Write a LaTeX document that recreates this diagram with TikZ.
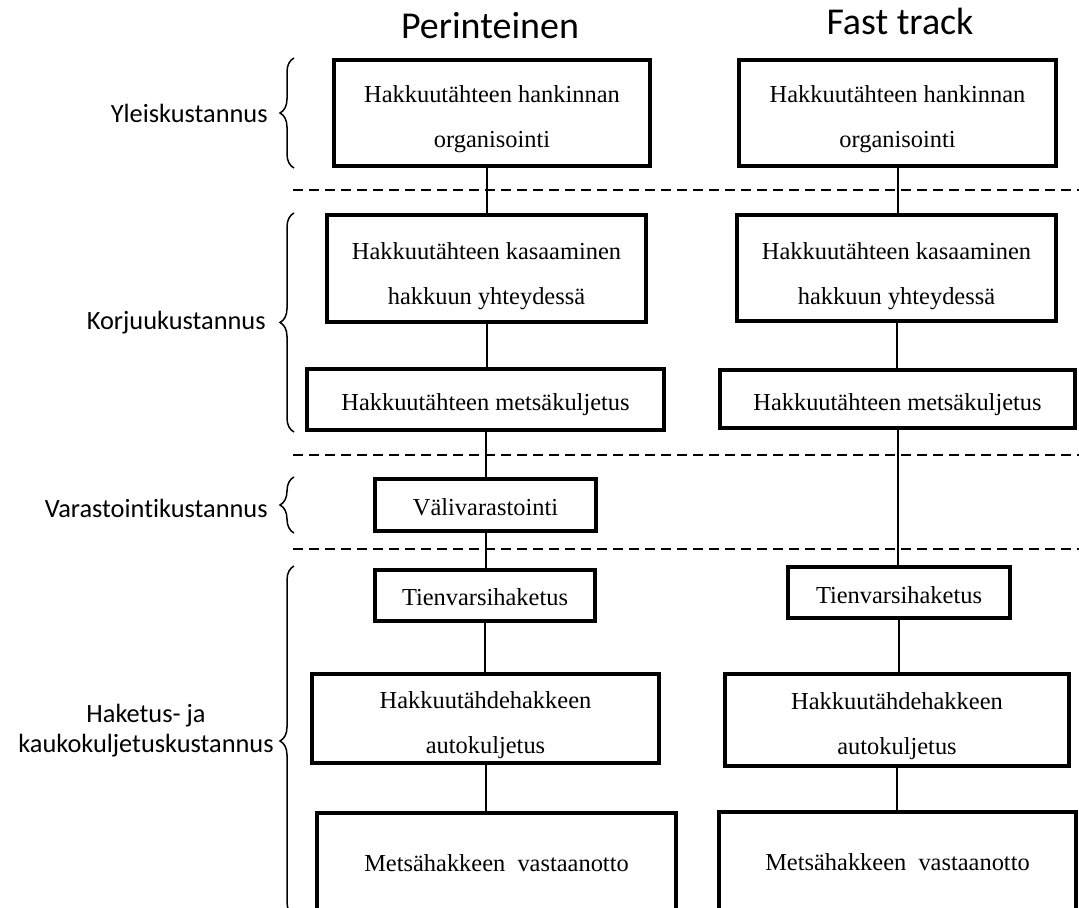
\documentclass[tikz,border=0pt]{standalone}
\usepackage{fontspec}
\setmainfont{Liberation Serif}
\newfontfamily\labelfont{Carlito}[Ligatures=NoCommon]
\usepackage{tikz}
\usetikzlibrary{positioning}
\usetikzlibrary{decorations.pathreplacing}
\newlength{\pxu}
\setlength{\pxu}{0.02cm}
\tikzset{
    costbox/.style={
           rectangle,
           draw=black, line width=4\pxu,
           inner sep=0pt,
           },
    boxtext/.style={
           align=center,
           inner sep=0pt,
           font=\fontsize{13.9}{25.5}\selectfont,
           },
    phase/.style={
           font=\labelfont\fontsize{15}{17}\selectfont,
           align=center,
           inner sep=0pt,
           anchor=east,
           },
    column/.style={
           font=\labelfont\fontsize{21.6}{25}\selectfont,
           anchor=base,
           },
    bracket/.style={
           decorate,
           decoration={brace, amplitude=14\pxu},
           line width=1.5\pxu,
           },
    divider/.style={dash pattern=on 10\pxu off 6\pxu, line width=2.2\pxu},
    link/.style={line width=2\pxu},
}

\begin{document}
\begin{tikzpicture}[x=1\pxu, y=-1\pxu]

 % frame of the picture, bottom boxes run off the page
 \useasboundingbox (0,0) rectangle (1079,908);
 \clip (0,0) rectangle (1079,908);

 % column titles
 \node[column] (PER) at (490,39) {Perinteinen};
 \node[column] (FAST) at (900,35) {Fast track};

 % left column: Perinteinen
 % text of a box sits a little below its middle
 \node[costbox, minimum width=316\pxu, minimum height=106\pxu,
  label={[boxtext, yshift=-6.5\pxu]center:{Hakkuutähteen hankinnan\\organisointi}}] (ORG1) at (492,113) {};
 \node[costbox, minimum width=319\pxu, minimum height=107\pxu,
  label={[boxtext, yshift=-8\pxu]center:{Hakkuutähteen kasaaminen\\hakkuun yhteydessä}}] (KAS1) at (486.5,268.5) {};
 \node[costbox, minimum width=357\pxu, minimum height=61\pxu,
  label={[boxtext, yshift=-5\pxu]center:{Hakkuutähteen metsäkuljetus}}] (MET1) at (485.5,399.5) {};
 \node[costbox, minimum width=221\pxu, minimum height=52\pxu,
  label={[boxtext, yshift=-2\pxu]center:{Välivarastointi}}] (VAL1) at (485.5,505) {};
 \node[costbox, minimum width=220\pxu, minimum height=51\pxu,
  label={[boxtext, yshift=-2\pxu]center:{Tienvarsihaketus}}] (TIE1) at (485,595.5) {};
 \node[costbox, minimum width=347\pxu, minimum height=89\pxu,
  label={[boxtext, yshift=-6.5\pxu]center:{Hakkuutähdehakkeen\\autokuljetus}}] (AUTO1) at (485.5,718.5) {};
 \node[costbox, minimum width=359\pxu, minimum height=100\pxu,
  label={[boxtext]center:{Metsähakkeen\ \ vastaanotto}}] (VAST1) at (496.5,863) {};

 % right column: Fast track (no storage step)
 \node[costbox, minimum width=317\pxu, minimum height=106\pxu,
  label={[boxtext, yshift=-6.5\pxu]center:{Hakkuutähteen hankinnan\\organisointi}}] (ORG2) at (897.5,113) {};
 \node[costbox, minimum width=319\pxu, minimum height=106\pxu,
  label={[boxtext, yshift=-8\pxu]center:{Hakkuutähteen kasaaminen\\hakkuun yhteydessä}}] (KAS2) at (896.5,268) {};
 \node[costbox, minimum width=355\pxu, minimum height=58\pxu,
  label={[boxtext, yshift=-5.5\pxu]center:{Hakkuutähteen metsäkuljetus}}] (MET2) at (897.5,399) {};
 \node[costbox, minimum width=222\pxu, minimum height=51\pxu,
  label={[boxtext, yshift=-2.5\pxu]center:{Tienvarsihaketus}}] (TIE2) at (899,592.5) {};
 \node[costbox, minimum width=344\pxu, minimum height=92\pxu,
  label={[boxtext, yshift=-6\pxu]center:{Hakkuutähdehakkeen\\autokuljetus}}] (AUTO2) at (897,720) {};
 \node[costbox, minimum width=357\pxu, minimum height=101\pxu,
  label={[boxtext]center:{Metsähakkeen\ \ vastaanotto}}] (VAST2) at (897.5,862.5) {};

 % cost groups on the left
 \node[phase] (YLE) at (268,113) {Yleiskustannus};
 \node[phase] (KOR) at (266,323) {Korjuukustannus};
 \node[phase] (VAR) at (268,508) {Varastointikustannus};
 \node[phase] (HAK) at (274,731) {Haketus- ja\\kaukokuljetuskustannus};

 \draw[bracket] (294,168) -- (294,58);
 \draw[bracket] (294,432) -- (294,213);
 \draw[bracket] (294,533) -- (294,477);
 \draw[bracket] (294,916) -- (294,566);

 % group borders
 \draw[divider] (293,190) -- (1079,190);
 \draw[divider] (293,455) -- (1079,455);
 \draw[divider] (293,549) -- (1079,549);

 % connectors
 \draw[link] (KAS1.north) -- (KAS1.north |- ORG1.south);
 \draw[link] (KAS1.south) -- (KAS1.south |- MET1.north);
 \draw[link] (VAL1.north) -- (VAL1.north |- MET1.south);
 \draw[link] (VAL1.south) -- (VAL1.south |- TIE1.north);
 \draw[link] (TIE1.south) -- (TIE1.south |- AUTO1.north);
 \draw[link] (AUTO1.south) -- (AUTO1.south |- VAST1.north);

 \draw[link] (ORG2.south) -- (ORG2.south |- KAS2.north);
 \draw[link] (KAS2.south) -- (KAS2.south |- MET2.north);
 \draw[link] (MET2.south) -- (MET2.south |- TIE2.north);
 \draw[link] (TIE2.south) -- (TIE2.south |- AUTO2.north);
 \draw[link] (AUTO2.south) -- (AUTO2.south |- VAST2.north);
\end{tikzpicture}
\end{document}
